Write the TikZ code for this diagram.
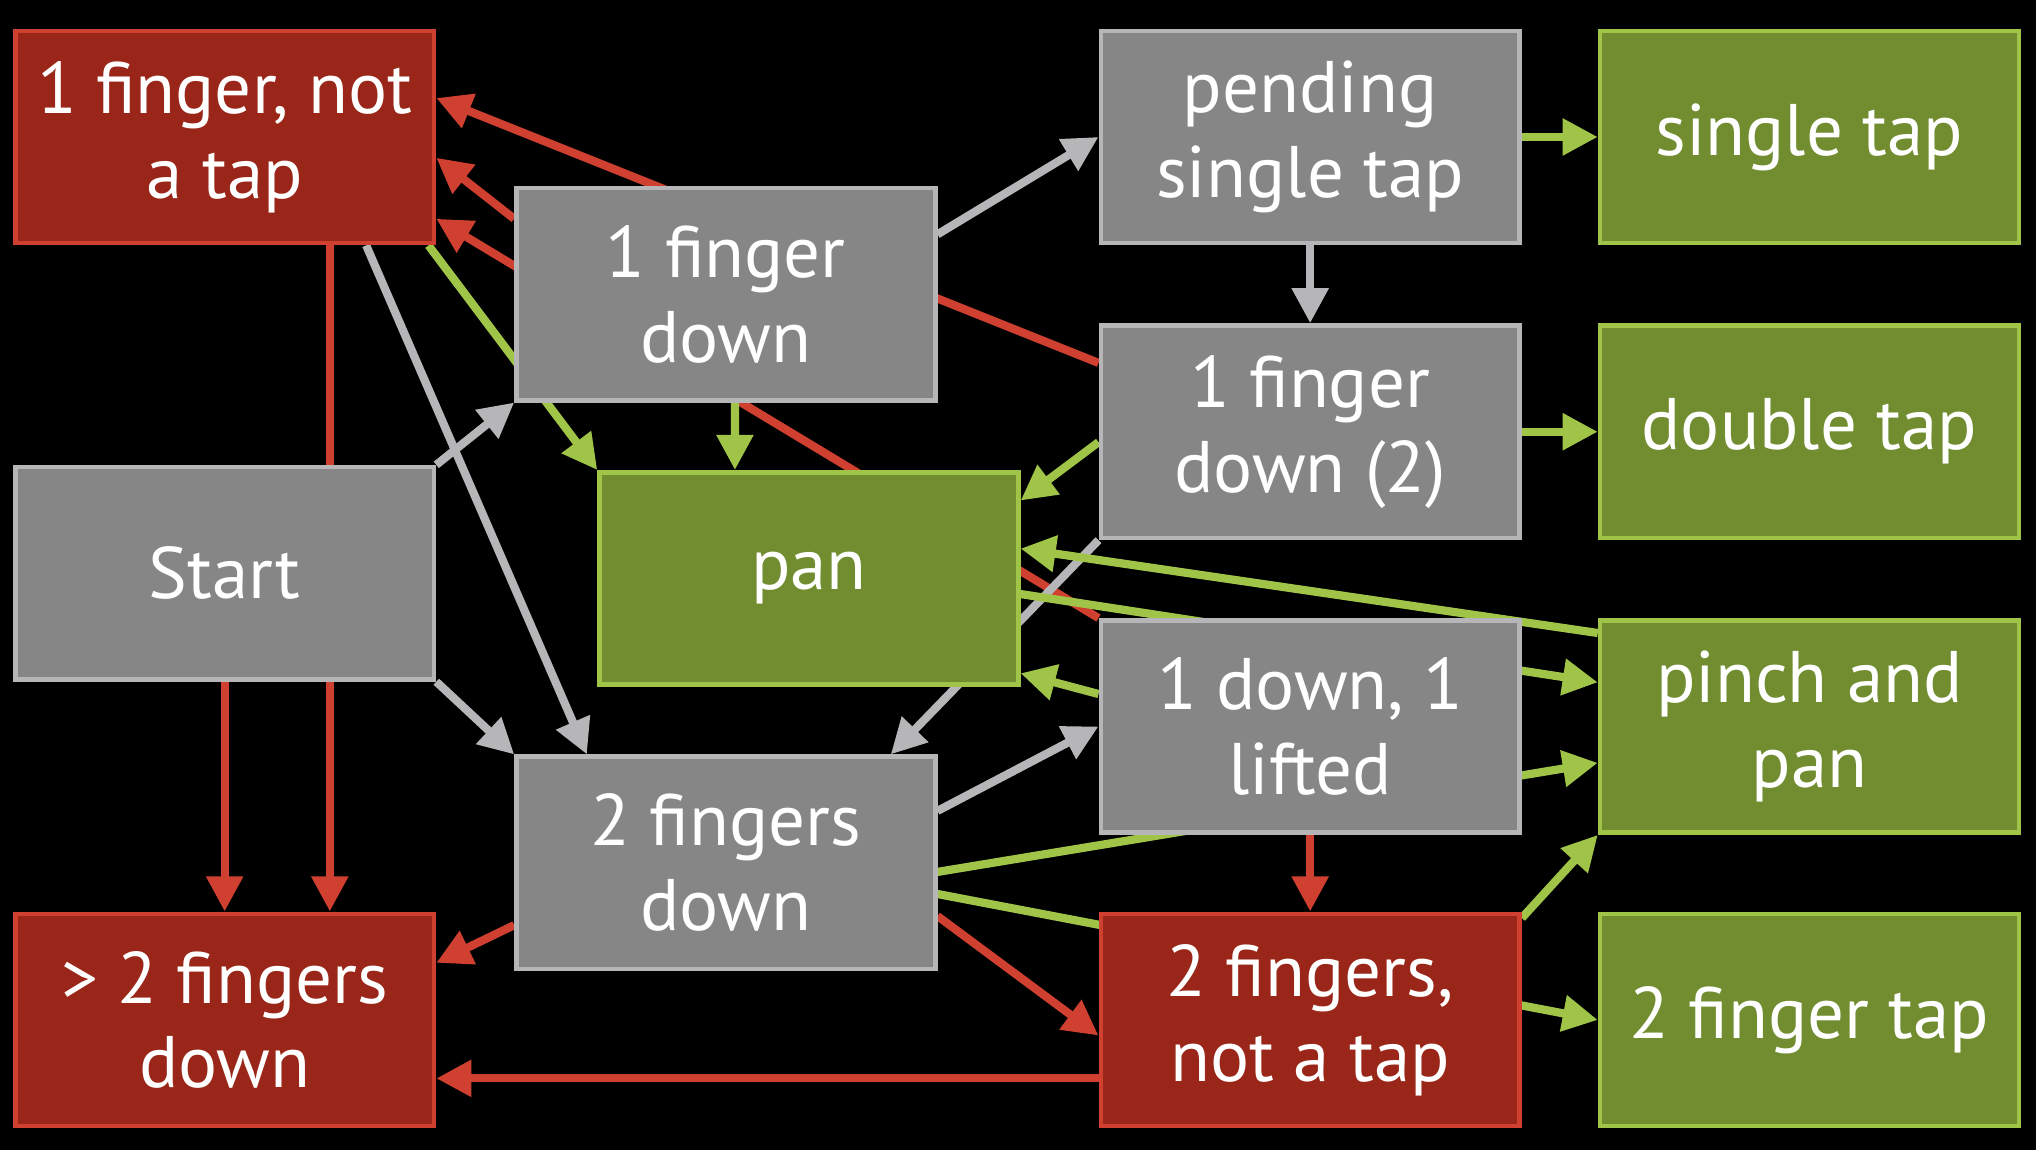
\documentclass[tikz,border=0pt]{standalone}
\usepackage{fontspec}
\setmainfont{PT Sans}
\usetikzlibrary{arrows.meta}
\definecolor{boxgray}{RGB}{134,134,134}
\definecolor{linegray}{RGB}{182,182,184}
\definecolor{boxred}{RGB}{153,38,24}
\definecolor{linered}{RGB}{208,64,48}
\definecolor{boxgreen}{RGB}{113,141,48}
\definecolor{linegreen}{RGB}{160,196,72}
\pgfdeclarelayer{back}
\pgfsetlayers{back,main}
\begin{document}
\begin{tikzpicture}

    \tikzset{
      state/.style={
        line width=1pt,
        text=white,
        align=center,
        inner sep=0pt,
        minimum width=3.225cm,
        minimum height=1.635cm,
        font=\fontsize{16}{18.6}\selectfont,
      },
      graybox/.style={state, draw=linegray, fill=boxgray},
      redbox/.style={state, draw=linered, fill=boxred},
      greenbox/.style={state, draw=linegreen, fill=boxgreen},
      link/.style={line width=1.8pt, -{Triangle[length=0.27cm,width=0.27cm]}},
      grayline/.style={link, draw=linegray, fill=linegray},
      redline/.style={link, draw=linered, fill=linered},
      greenline/.style={link, draw=linegreen, fill=linegreen},
    }
    \useasboundingbox (0,0) rectangle (15.68,8.86);

	% states
	\node[redbox] (nt1) at (1.73,7.805) {1 finger, not\\a tap};
	\node[graybox] (start) at (1.73,4.445) {Start};
	\node[redbox] (nt3) at (1.73,1.005) {> 2 fingers\\down};
	\node[graybox] (fd1) at (5.59,6.595) {1 finger\\down};
	\node[greenbox] (pan) at (6.23,4.405) {pan};
	\node[graybox] (fd2) at (5.59,2.215) {2 fingers\\down};
	\node[graybox] (pend) at (10.09,7.805) {pending\\single tap};
	\node[graybox] (fd1b) at (10.09,5.535) {1 finger\\down (2)};
	\node[graybox] (lift) at (10.09,3.265) {1 down, 1\\lifted};
	\node[redbox] (nt2) at (10.09,1.005) {2 fingers,\\not a tap};
	\node[greenbox] (tap1) at (13.935,7.805) {single tap};
	\node[greenbox] (tap) at (13.935,5.535) {double tap};
	\node[greenbox] (pinch) at (13.935,3.265) {pinch and\\pan};
	\node[greenbox] (tap2) at (13.935,1.005) {2 finger tap};

	\begin{pgfonlayer}{back}
	\fill[black] (0,0) rectangle (15.68,8.86);
	% red
	\draw[redline] ([yshift=0.53cm]fd1b.west) -- ([yshift=0.3cm]nt1.east);
	\draw[redline] ([yshift=0.58cm]fd1.west) -- ([yshift=-0.16cm]nt1.east);
	\draw[redline] (lift.north west) -- ([yshift=-0.63cm]nt1.east);
	\draw[redline] ([xshift=0.81cm]nt1.south) -- ([xshift=0.81cm]nt3.north);
	\draw[redline] (start.south) -- (nt3.north);
	\draw[redline] ([yshift=-0.48cm]fd2.west) -- ([yshift=0.44cm]nt3.east);
	\draw[redline] ([yshift=-0.45cm]nt2.west) -- ([yshift=-0.45cm]nt3.east);
	\draw[redline] ([yshift=-0.41cm]fd2.east) -- ([yshift=-0.12cm]nt2.west);
	\draw[redline] (lift.south) -- (nt2.north);
	% gray
	\draw[grayline] (start.north east) -- (fd1.south west);
	\draw[grayline] (start.south east) -- (fd2.north west);
	\draw[grayline] ([xshift=1.09cm]nt1.south) -- ([xshift=-1.07cm]fd2.north);
	\draw[grayline] ([yshift=0.46cm]fd1.east) -- (pend.west);
	\draw[grayline] (pend.south) -- (fd1b.north);
	\draw[grayline] (fd1b.south west) -- ([xshift=1.27cm]fd2.north);
	\draw[grayline] ([yshift=0.4cm]fd2.east) -- (lift.west);
	% green
	\draw[greenline] ([xshift=-0.06cm]nt1.south east) -- (pan.north west);
	\draw[greenline] ([xshift=0.07cm]fd1.south) -- ([xshift=-0.57cm]pan.north);
	\draw[greenline] ([yshift=-0.08cm]fd1b.west) -- ([yshift=0.6cm]pan.east);
	\draw[greenline] ([yshift=0.72cm]pinch.west) -- ([yshift=0.23cm]pan.east);
	\draw[greenline] ([yshift=-0.12cm]pan.east) -- ([yshift=0.34cm]pinch.west);
	\draw[greenline] ([yshift=-0.07cm]fd2.east) -- ([yshift=-0.28cm]pinch.west);
	\draw[greenline] ([yshift=-0.24cm]fd2.east) -- (tap2.west);
	\draw[greenline] ([yshift=-0.05cm]nt2.north east) -- (pinch.south west);
	\draw[greenline] ([yshift=0.25cm]lift.west) -- ([yshift=-0.73cm]pan.east);
	\draw[greenline] (pend.east) -- (tap1.west);
	\draw[greenline] (fd1b.east) -- (tap.west);
	\end{pgfonlayer}

\end{tikzpicture}
\end{document}
